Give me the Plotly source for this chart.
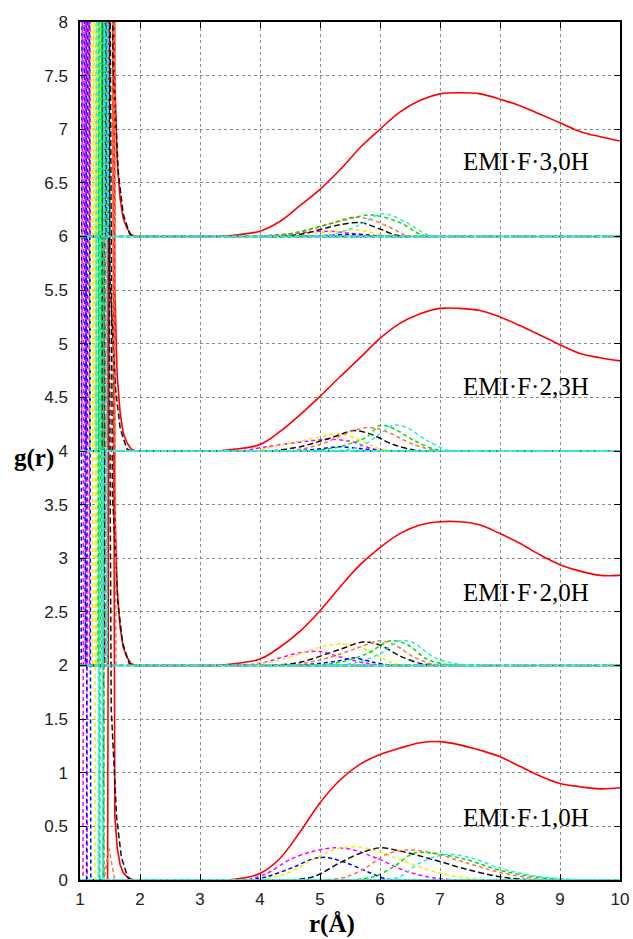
import plotly.graph_objects as go

# ---------------- data ----------------
OFFSETS = [0, 2, 4, 6]
GROUP_LABELS = ["EMI·F·1,0H", "EMI·F·2,0H", "EMI·F·2,3H", "EMI·F·3,0H"]
LABEL_R = [8.43, 8.43, 8.43, 8.43]
LABEL_G = [0.58, 2.68, 4.60, 6.70]

X_TICKS = [1, 2, 3, 4, 5, 6, 7, 8, 9, 10]
Y_TICKS = [0, 0.5, 1, 1.5, 2, 2.5, 3, 3.5, 4, 4.5, 5, 5.5, 6, 6.5, 7, 7.5, 8]
Y_TICK_TEXT = ["0", "0.5", "1", "1.5", "2", "2.5", "3", "3.5", "4", "4.5",
               "5", "5.5", "6", "6.5", "7", "7.5", "8"]

# total g(r) (solid red), long-range part, relative to each group's offset
RED_R = [1.9, 3.0, 3.33, 3.56, 4.0, 4.33, 4.67, 5.0, 5.33, 5.67, 6.0, 6.33,
         6.67, 7.0, 7.33, 7.67, 8.0, 8.33, 8.67, 9.0, 9.33, 9.67, 10.0]
RED_G_1_0H = [0, 0, 0, 0.006, 0.06, 0.20, 0.45, 0.72, 0.93, 1.08, 1.17, 1.23,
              1.28, 1.29, 1.26, 1.21, 1.15, 1.06, 0.97, 0.90, 0.87, 0.85, 0.86]
RED_G_2_0H = [0, 0, 0.003, 0.015, 0.06, 0.17, 0.32, 0.51, 0.73, 0.94, 1.10, 1.23,
              1.31, 1.34, 1.34, 1.31, 1.23, 1.14, 1.03, 0.94, 0.88, 0.84, 0.84]
RED_G_2_3H = [0, 0, 0.003, 0.015, 0.06, 0.18, 0.34, 0.51, 0.69, 0.87, 1.05, 1.19,
              1.28, 1.33, 1.33, 1.31, 1.25, 1.17, 1.08, 0.99, 0.91, 0.87, 0.84]
RED_G_3_0H = [0, 0, 0.003, 0.012, 0.05, 0.14, 0.29, 0.44, 0.62, 0.83, 1.0, 1.16,
              1.27, 1.33, 1.34, 1.33, 1.28, 1.22, 1.14, 1.06, 0.98, 0.93, 0.89]
RED_LONG = [RED_G_1_0H, RED_G_2_0H, RED_G_2_3H, RED_G_3_0H]

# first (intramolecular) peak of the solid red curve
RED_PEAK_R = [1.0, 1.46, 1.52, 1.58, 1.62, 1.67, 1.72, 1.78, 1.85, 1.92]
RED_PEAK_G_1_0H = [0, 0, 14, 0.6, 0.3, 0.14, 0.07, 0.03, 0.01, 0]
RED_PEAK_G_OTHER = [0, 0, 14, 1.5, 0.7, 0.35, 0.17, 0.08, 0.02, 0]

# dashed neighbour contributions
COLOR_NAMES = ["magenta", "blue", "yellow", "black", "orange", "green", "cyan"]
COLOR_HEX = {"magenta": "#ff00ff", "blue": "#0000ff", "yellow": "#eeee00",
             "black": "#111111", "orange": "#ff7040", "green": "#00dd00",
             "cyan": "#30e6e6"}

# position of each narrow first peak, per group (1,0H / 2,0H / 2,3H / 3,0H)
PEAK_POS = {
    "magenta": [1.08, 1.12, 1.06, 1.13],
    "blue":    [1.14, 1.05, 1.13, 1.40],
    "yellow":  [1.28, 1.24, 1.20, 1.31],
    "black":   [1.42, 1.44, 1.40, 1.45],
    "orange":  [1.48, 1.50, 1.47, 1.49],
    "green":   [1.36, 1.33, 1.35, 1.39],
    "cyan":    [1.34, 1.41, 1.30, 1.43],
}
PEAK_HEIGHT = {
    "magenta": [14, 14, 14, 14],
    "blue":    [14, 14, 14, 14],
    "yellow":  [14, 14, 14, 14],
    "black":   [14, 14, 14, 14],
    "orange":  [0.3, 14, 14, 14],
    "green":   [14, 14, 14, 14],
    "cyan":    [14, 14, 14, 14],
}
SHARP_DR = [-0.03, 0.0, 0.04]
SHARP_FRAC = [0, 1, 0]
TAIL_DR = [-0.03, 0.0, 0.10, 0.19, 0.27, 0.38, 0.45]
TAIL_ABS = [0, None, 1.6, 0.59, 0.21, 0.02, 0]
ORANGE_DR = [-0.08, 0.0, 0.10]

# second-shell humps (r, g relative to offset), per group
HUMPS_1_0H = {
    "magenta": ([3.8, 4.11, 4.5, 4.83, 5.22, 5.56, 6.0, 6.44, 6.89, 7.3],
                [0, 0.06, 0.19, 0.26, 0.30, 0.28, 0.19, 0.08, 0.02, 0]),
    "blue":    ([3.8, 4.11, 4.56, 4.89, 5.11, 5.44, 5.78, 6.11, 6.4],
                [0, 0.03, 0.12, 0.20, 0.21, 0.16, 0.08, 0.01, 0]),
    "yellow":  ([4.0, 4.44, 4.89, 5.22, 5.56, 5.89, 6.33, 6.89, 7.44, 7.9],
                [0, 0.06, 0.19, 0.28, 0.31, 0.28, 0.19, 0.08, 0.02, 0]),
    "black":   ([4.5, 4.89, 5.33, 5.67, 6.0, 6.33, 6.89, 7.44, 8.0, 8.5],
                [0, 0.03, 0.16, 0.25, 0.30, 0.27, 0.19, 0.10, 0.03, 0]),
    "orange":  ([5.0, 5.44, 5.78, 6.11, 6.44, 6.89, 7.44, 8.0, 8.56, 9.0],
                [0, 0.03, 0.12, 0.24, 0.28, 0.25, 0.16, 0.07, 0.015, 0]),
    "green":   ([5.5, 5.89, 6.22, 6.56, 6.89, 7.44, 8.0, 8.56, 9.1],
                [0, 0.03, 0.12, 0.25, 0.25, 0.19, 0.09, 0.03, 0]),
    "cyan":    ([6.0, 6.33, 6.67, 7.11, 7.56, 8.0, 8.56, 9.1, 9.5],
                [0, 0.03, 0.16, 0.24, 0.20, 0.11, 0.04, 0.01, 0]),
}
HUMPS_2_0H = {
    "magenta": ([3.6, 4.0, 4.67, 5.0, 5.33, 5.78, 6.1],
                [0, 0.02, 0.12, 0.13, 0.08, 0.02, 0]),
    "blue":    ([4.6, 5.0, 5.28, 5.56, 5.89, 6.2],
                [0, 0.02, 0.04, 0.07, 0.03, 0]),
    "yellow":  ([3.8, 4.33, 5.0, 5.33, 5.67, 6.0, 6.22, 6.5],
                [0, 0.05, 0.17, 0.20, 0.17, 0.08, 0.02, 0]),
    "black":   ([4.2, 4.67, 5.33, 5.72, 6.0, 6.33, 6.67, 6.95],
                [0, 0.03, 0.15, 0.22, 0.19, 0.09, 0.02, 0]),
    "orange":  ([4.5, 5.0, 5.56, 6.0, 6.22, 6.56, 6.83, 7.1],
                [0, 0.05, 0.15, 0.23, 0.20, 0.08, 0.02, 0]),
    "green":   ([4.8, 5.33, 5.78, 6.17, 6.44, 6.78, 7.11, 7.4],
                [0, 0.03, 0.11, 0.23, 0.20, 0.06, 0.01, 0]),
    "cyan":    ([5.1, 5.56, 6.0, 6.33, 6.56, 6.89, 7.22, 7.5],
                [0, 0.02, 0.11, 0.23, 0.21, 0.08, 0.02, 0]),
}
HUMPS_2_3H = {
    "magenta": ([3.7, 4.11, 4.78, 5.17, 5.5, 5.89, 6.2],
                [0, 0.04, 0.09, 0.11, 0.09, 0.02, 0]),
    "blue":    ([4.6, 5.0, 5.33, 5.7, 6.1],
                [0, 0.02, 0.04, 0.02, 0]),
    "yellow":  ([3.9, 4.39, 5.0, 5.33, 5.67, 6.0, 6.3],
                [0, 0.06, 0.13, 0.16, 0.10, 0.02, 0]),
    "black":   ([4.2, 4.67, 5.22, 5.56, 5.83, 6.22, 6.56, 6.85],
                [0, 0.04, 0.13, 0.19, 0.16, 0.06, 0.01, 0]),
    "orange":  ([4.5, 5.0, 5.56, 5.83, 6.11, 6.56, 6.89, 7.1],
                [0, 0.06, 0.19, 0.22, 0.18, 0.06, 0.01, 0]),
    "green":   ([4.9, 5.33, 5.78, 6.0, 6.22, 6.56, 6.89, 7.1],
                [0, 0.04, 0.13, 0.24, 0.21, 0.10, 0.02, 0]),
    "cyan":    ([5.2, 5.67, 6.0, 6.22, 6.44, 6.78, 7.11, 7.35],
                [0, 0.04, 0.16, 0.24, 0.22, 0.10, 0.01, 0]),
}
HUMPS_3_0H = {
    "magenta": ([3.9, 4.39, 5.11, 5.5, 5.89, 6.1],
                [0, 0.02, 0.05, 0.03, 0.01, 0]),
    "blue":    ([4.6, 5.11, 5.56, 6.0, 6.2],
                [0, 0.01, 0.02, 0.005, 0]),
    "yellow":  ([4.2, 4.67, 5.33, 5.61, 6.0, 6.2],
                [0, 0.02, 0.05, 0.06, 0.02, 0]),
    "black":   ([4.2, 4.67, 5.33, 5.67, 6.0, 6.22, 6.4],
                [0, 0.02, 0.11, 0.13, 0.07, 0.02, 0]),
    "orange":  ([4.0, 4.67, 5.22, 5.56, 5.89, 6.22, 6.39, 6.55],
                [0, 0.04, 0.13, 0.18, 0.15, 0.07, 0.02, 0]),
    "green":   ([3.9, 4.44, 5.11, 5.67, 5.89, 6.33, 6.67, 6.85],
                [0, 0.02, 0.11, 0.19, 0.20, 0.13, 0.02, 0]),
    "cyan":    ([4.8, 5.22, 5.67, 6.0, 6.17, 6.44, 6.78, 7.0],
                [0, 0.02, 0.11, 0.21, 0.20, 0.13, 0.02, 0]),
}
HUMPS = [HUMPS_1_0H, HUMPS_2_0H, HUMPS_2_3H, HUMPS_3_0H]

# ---------------- figure ----------------
fig = go.Figure()
RED = "#ff0000"

for gi, off in enumerate(OFFSETS):
    peak_g = RED_PEAK_G_1_0H if gi == 0 else RED_PEAK_G_OTHER
    fig.add_trace(go.Scatter(x=RED_PEAK_R, y=[v + off for v in peak_g], mode="lines",
                             line=dict(color=RED, width=1.6), hoverinfo="skip"))
    fig.add_trace(go.Scatter(x=RED_R, y=[v + off for v in RED_LONG[gi]], mode="lines",
                             line=dict(color=RED, width=1.6, shape="spline"),
                             hoverinfo="skip"))

for gi, off in enumerate(OFFSETS):
    for name in COLOR_NAMES:
        col = COLOR_HEX[name]
        dash = "6px,3px" if name == "black" else "4px,3px"
        base_dash = "6px,1px" if name == "cyan" else dash
        base_w = 2.0 if name == "cyan" else 1.5
        p = PEAK_POS[name][gi]
        h = PEAK_HEIGHT[name][gi]
        if name == "black":
            rs = [p + d for d in TAIL_DR]
            gs = [h if a is None else a for a in TAIL_ABS]
        elif name == "orange":
            rs = [p + d for d in ORANGE_DR]
            gs = [f * h for f in SHARP_FRAC]
        else:
            rs = [p + d for d in SHARP_DR]
            gs = [f * h for f in SHARP_FRAC]
        xs = [1.0] + rs + [10.0]
        ys = [0] + gs + [0]
        fig.add_trace(go.Scatter(x=xs, y=[v + off for v in ys], mode="lines",
                                 line=dict(color=col, width=base_w, dash=base_dash),
                                 hoverinfo="skip"))
        hr, hg = HUMPS[gi][name]
        fig.add_trace(go.Scatter(x=hr, y=[v + off for v in hg], mode="lines",
                                 line=dict(color=col, width=1.5, dash=dash,
                                           shape="spline", smoothing=0.9),
                                 hoverinfo="skip"))

for lab, lr, lg in zip(GROUP_LABELS, LABEL_R, LABEL_G):
    fig.add_annotation(x=lr, y=lg, xref="x", yref="y", text=lab, showarrow=False,
                       font=dict(family="Liberation Serif", size=25, color="#000000"),
                       xanchor="center", yanchor="middle")

fig.add_annotation(x=-0.085, y=0.492, xref="paper", yref="paper", text="<b>g(r)</b>",
                   showarrow=False, xanchor="center", yanchor="middle",
                   font=dict(family="Liberation Serif", size=25, color="#000000"))
fig.add_annotation(x=0.467, y=-0.0513, xref="paper", yref="paper", text="<b>r(Å)</b>",
                   showarrow=False, xanchor="center", yanchor="middle",
                   font=dict(family="Liberation Serif", size=25, color="#000000"))

axis_common = dict(
    ticks="inside", ticklen=6, tickwidth=1.2, tickcolor="#000000",
    showline=True, linecolor="#000000", linewidth=1.5, mirror="ticks",
    showgrid=True, gridcolor="#8c8c8c", griddash="dot", gridwidth=1,
    zeroline=False, automargin=False,
    tickfont=dict(family="Liberation Sans", size=17, color="#222222"),
)
fig.update_xaxes(range=[1, 10], tickvals=X_TICKS, ticktext=[str(t) for t in X_TICKS],
                 ticklabelstandoff=3, **axis_common)
fig.update_yaxes(range=[0, 8], tickvals=Y_TICKS, ticktext=Y_TICK_TEXT,
                 ticklabelstandoff=7, **axis_common)

fig.update_layout(width=633, height=939, margin=dict(l=80, r=13, t=22, b=59),
                  plot_bgcolor="white", paper_bgcolor="white", showlegend=False)

fig.write_html("out.html", config={"displayModeBar": False},
               post_script="document.body.style.margin='0';document.body.style.padding='0';"
                           "document.body.style.overflow='hidden';")
